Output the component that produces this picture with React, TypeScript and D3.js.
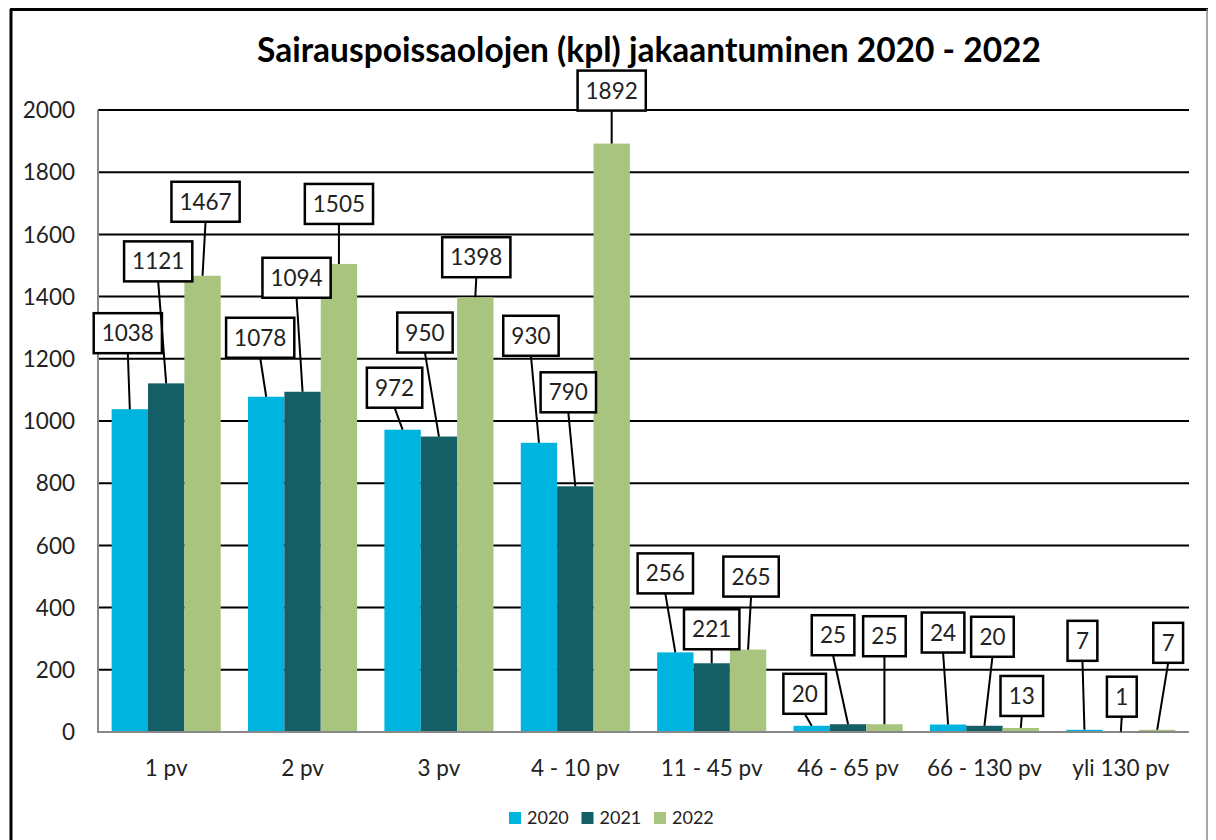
import React from 'react'
import * as d3 from 'd3'

const categories = ['1 pv', '2 pv', '3 pv', '4 - 10 pv', '11 - 45 pv', '46 - 65 pv', '66 - 130 pv', 'yli 130 pv']
const years = ['2020', '2021', '2022']
const values2020 = [1038, 1078, 972, 930, 256, 20, 24, 7]
const values2021 = [1121, 1094, 950, 790, 221, 25, 20, 1]
const values2022 = [1467, 1505, 1398, 1892, 265, 25, 13, 7]
const yTicks = [0, 200, 400, 600, 800, 1000, 1200, 1400, 1600, 1800, 2000]

const colors = ['#00B4E0', '#145F66', '#A9C47F']

// hand-placed label boxes: [dx, dy] from bar top centre (px), per category, per year
const labelOffsets = [
  [[-2, -76], [-8, -122], [3, -74]],
  [[-6, -59], [-6, -114], [0, -60]],
  [[-8, -42], [-14, -104], [1, -40]],
  [[-8, -107], [-7, -94], [0, -53]],
  [[-10, -79], [0, -34], [3, -73]],
  [[-7, -32], [-15, -89], [0, -88]],
  [[-5, -92], [8, -89], [1, -32]],
  [[-2, -89], [1, -35], [11, -87]],
]

const W = 1216
const H = 840
const margin = { left: 98, right: 27, top: 110, bottom: 108 }
const font = 'Lato, "Open Sans", sans-serif'

export default function App() {
  const series = [values2020, values2021, values2022]
  const x0 = d3.scaleBand<string>()
    .domain(categories)
    .range([margin.left, W - margin.right])
    .paddingInner(0.2)
    .paddingOuter(0.1)
  const x1 = d3.scaleBand<string>()
    .domain(years)
    .range([0, x0.bandwidth()])
  const y = d3.scaleLinear()
    .domain([0, 2000])
    .range([H - margin.bottom, margin.top])

  const plotRight = W - margin.right
  const boxH = 40

  return (
    <svg width={W} height={H} style={{ position: 'absolute', left: 0, top: 0, display: 'block' }}>
      <rect x={0} y={0} width={W} height={H} fill="#fff" />
      {/* frame */}
      <line x1={11} y1={9} x2={11} y2={H} stroke="#000" strokeWidth={3} />
      <line x1={10} y1={9.5} x2={1208} y2={9.5} stroke="#000" strokeWidth={3} />
      <line x1={1207} y1={9} x2={1207} y2={H} stroke="#8a8a8a" strokeWidth={1.5} />

      <text x={649} y={62} textAnchor="middle" fontFamily={font} fontWeight="bold" fontSize={33.5} fill="#000">
        Sairauspoissaolojen (kpl) jakaantuminen 2020 - 2022
      </text>

      {/* gridlines */}
      {yTicks.map(t => (
        <g key={t}>
          {t > 0 && (
            <line x1={margin.left} x2={plotRight} y1={y(t)} y2={y(t)} stroke="#000" strokeWidth={2} />
          )}
          <text x={75} y={y(t)} dy="0.36em" textAnchor="end" fontFamily={font} fontSize={22.5} fill="#222">
            {t}
          </text>
        </g>
      ))}

      {/* bars */}
      {categories.map((c, i) => (
        <g key={c} transform={`translate(${x0(c)},0)`}>
          {years.map((yr, j) => {
            const v = series[j][i]
            return (
              <rect key={yr} x={x1(yr)} y={y(v)} width={x1.bandwidth()} height={y(0) - y(v)} fill={colors[j]} />
            )
          })}
        </g>
      ))}

      {/* axes */}
      <line x1={margin.left} x2={margin.left} y1={y(2000)} y2={y(0)} stroke="#888" strokeWidth={2} />
      <line x1={margin.left - 1} x2={plotRight} y1={y(0)} y2={y(0)} stroke="#888" strokeWidth={2} />

      {categories.map(c => (
        <text key={c} x={(x0(c) as number) + x0.bandwidth() / 2} y={776} textAnchor="middle"
          fontFamily={font} fontSize={22.5} fill="#222">
          {c}
        </text>
      ))}

      {/* data labels */}
      {categories.map((c, i) => (
        <g key={c}>
          {years.map((yr, j) => {
            const v = series[j][i]
            const cx = (x0(c) as number) + (x1(yr) as number) + x1.bandwidth() / 2
            const top = y(v)
            const [dx, dy] = labelOffsets[i][j]
            const bx = cx + dx
            const by = top + dy
            const bw = String(v).length * 12.8 + 17
            return (
              <g key={yr}>
                <line x1={bx} y1={by + boxH / 2} x2={cx} y2={top} stroke="#000" strokeWidth={2} />
                <rect x={bx - bw / 2} y={by - boxH / 2} width={bw} height={boxH} fill="#fff" stroke="#000" strokeWidth={2.5} />
                <text x={bx} y={by} dy="0.36em" textAnchor="middle" fontFamily={font} fontSize={22.5} fill="#222">
                  {v}
                </text>
              </g>
            )
          })}
        </g>
      ))}

      {/* legend */}
      {years.map((yr, j) => {
        const lx = 509 + j * 72.5
        return (
          <g key={yr}>
            <rect x={lx} y={812} width={12} height={12} fill={colors[j]} />
            <text x={lx + 18} y={818} dy="0.36em" fontFamily={font} fontSize={18} fill="#222">{yr}</text>
          </g>
        )
      })}
    </svg>
  )
}
